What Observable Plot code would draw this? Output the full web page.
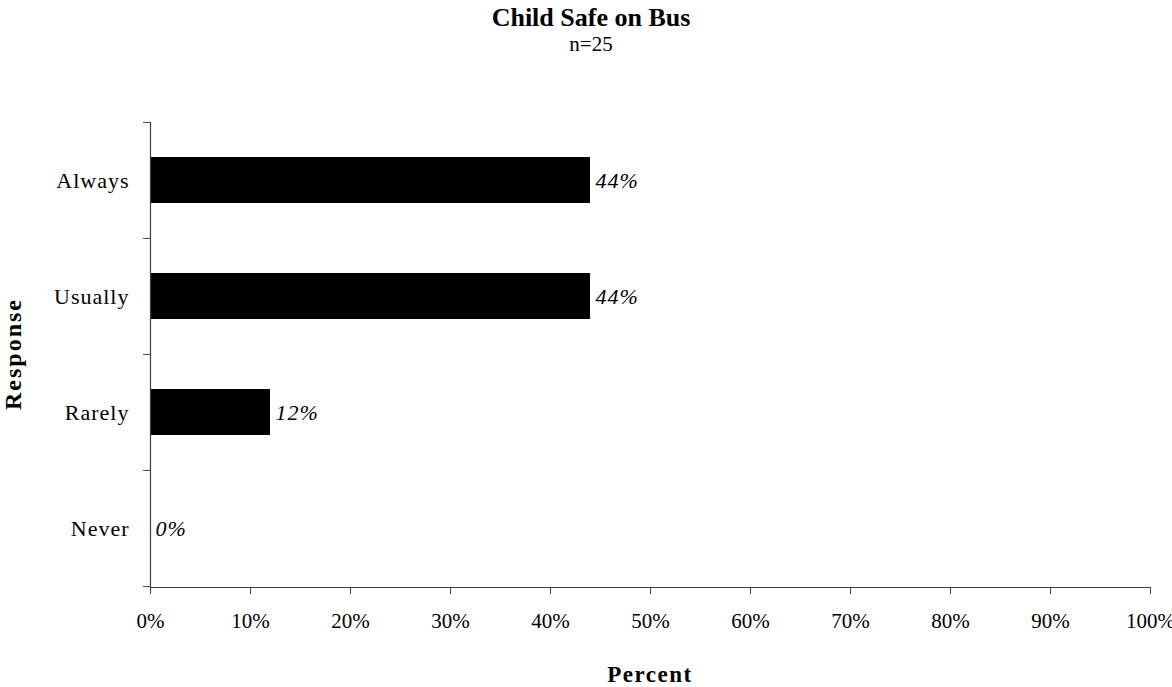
<!DOCTYPE html>
<html><head><meta charset="utf-8">
<script src="https://cdn.jsdelivr.net/npm/d3@7"></script>
<script src="https://cdn.jsdelivr.net/npm/@observablehq/plot@0.6"></script>
<style>
body{margin:0;background:#fff;font-family:"Liberation Serif","Times New Roman",serif;color:#000;}
#wrap{position:relative;width:1172px;height:687px;overflow:hidden;}
#chart{position:absolute;left:0;top:0;}
.t{position:absolute;white-space:nowrap;line-height:1;}
#title{left:0;width:1182px;top:5px;text-align:center;font-weight:bold;font-size:26px;}
#subtitle{left:0;width:1182px;top:34px;text-align:center;font-size:21px;}
#xlabel{left:0;width:1300px;top:663px;text-align:center;font-weight:bold;font-size:23px;letter-spacing:1.5px;}
#ylabel{left:13px;top:354px;font-weight:bold;font-size:24px;letter-spacing:2px;transform:translate(-50%,-50%) rotate(-90deg);}
g[aria-label="x-axis tick label"], g[aria-label="x-axis tick label"] text{letter-spacing:0px !important;}
</style>
</head><body>
<div id="wrap">
  <div id="chart"></div>
  <div class="t" id="title">Child Safe on Bus</div>
  <div class="t" id="subtitle">n=25</div>
  <div class="t" id="xlabel">Percent</div>
  <div class="t" id="ylabel">Response</div>
</div>
<script>
const categories = ["Always", "Usually", "Rarely", "Never"];
const percents = [0.44, 0.44, 0.12, 0.00];
const xTicks = [0, 0.1, 0.2, 0.3, 0.4, 0.5, 0.6, 0.7, 0.8, 0.9, 1.0];

const data = categories.map((c, i) => ({response: c, pct: percents[i]}));
const fmt = d => Math.round(d * 100) + "%";
const axisColor = "#404040";
const half = 465 / 4 / 2;

const chart = Plot.plot({
  width: 1172,
  height: 687,
  marginTop: 122,
  marginBottom: 100,
  marginLeft: 150,
  marginRight: 22,
  style: {fontFamily: "'Liberation Serif', 'Times New Roman', serif", fontSize: "22px", color: "#000", background: "transparent", overflow: "visible", letterSpacing: "1px"},
  x: {domain: [0, 1]},
  y: {domain: categories, paddingInner: 0.6, paddingOuter: 0.3},
  marks: [
    Plot.barX(data, {x: "pct", y: "response", fill: "#000"}),
    Plot.text(data, {x: "pct", y: "response", text: d => fmt(d.pct), textAnchor: "start", dx: 5, fontStyle: "italic", fontSize: 22}),
    Plot.ruleX([0], {stroke: axisColor, strokeWidth: 1.2}),
    Plot.frame({anchor: "bottom", stroke: axisColor, strokeWidth: 1.2}),
    Plot.axisX({ticks: xTicks, tickFormat: fmt, tickSize: 7, tickPadding: 19, stroke: axisColor, label: null, fontSize: 21}),
    Plot.axisY({tickSize: 0, tickPadding: 21, label: null, fontSize: 22}),
    Plot.axisY({ticks: categories, tickSize: 7, tickFormat: () => "", dy: -half, stroke: axisColor, label: null}),
    Plot.axisY({ticks: ["Never"], tickSize: 7, tickFormat: () => "", dy: half, stroke: axisColor, label: null})
  ]
});
document.getElementById("chart").appendChild(chart);
</script>
</body></html>
